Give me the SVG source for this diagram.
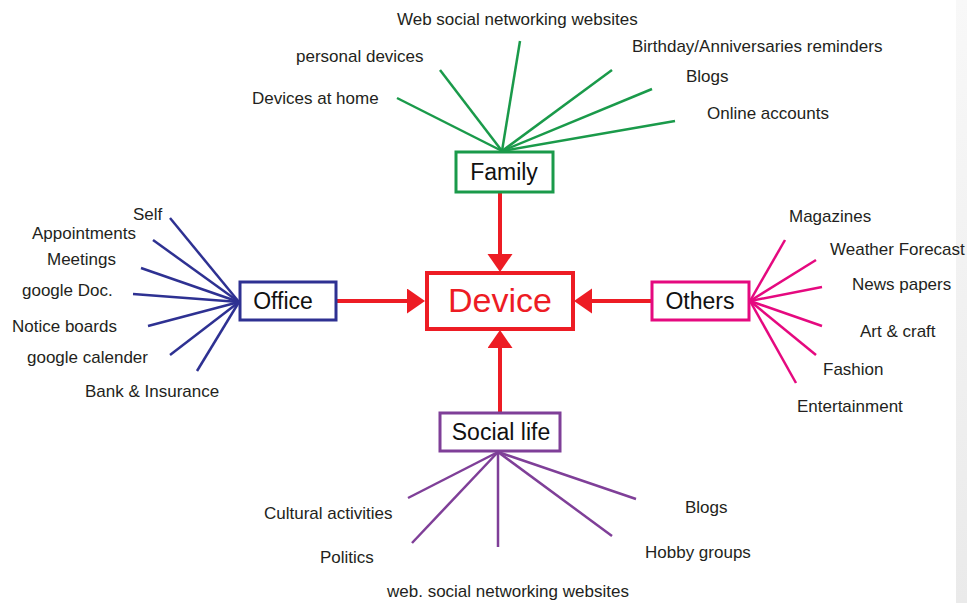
<svg xmlns="http://www.w3.org/2000/svg" width="967" height="603" viewBox="0 0 967 603">
  <defs>
    <linearGradient id="edge" x1="0" y1="0" x2="0" y2="1">
      <stop offset="0" stop-color="#f8f8f8"/>
      <stop offset="1" stop-color="#eaeaea"/>
    </linearGradient>
    <marker id="arrow" markerUnits="userSpaceOnUse" markerWidth="20" markerHeight="26" refX="0" refY="12.5" orient="auto" viewBox="0 0 20 26">
      <path d="M0,0 L18,12.5 L0,25 z" fill="#ed1c24"/>
    </marker>
  </defs>
  <style>
    .lbl { font-family: "Liberation Sans", Arial, sans-serif; font-size: 17px; fill: #231f20; }
    .node { font-family: "Liberation Sans", Arial, sans-serif; font-size: 23px; fill: #111111; text-anchor: middle; }
    .box { fill: #ffffff; stroke-width: 3; }
    .g { stroke: #1a9a4a; stroke-width: 2.5; fill: none; }
    .b { stroke: #2e3192; stroke-width: 2.5; fill: none; }
    .m { stroke: #e5097f; stroke-width: 2.5; fill: none; }
    .p { stroke: #7f3f98; stroke-width: 2.5; fill: none; }
    .arr { stroke: #ed1c24; stroke-width: 4; fill: none; marker-end: url(#arrow); }
  </style>
  <rect x="0" y="0" width="967" height="603" fill="#ffffff"/>
  <rect x="956" y="0" width="11" height="603" fill="url(#edge)"/>

  <g id="connectors">
    <g id="family-branches">
      <line class="g" x1="502" y1="151" x2="397" y2="98"/>
      <line class="g" x1="502" y1="151" x2="440" y2="70"/>
      <line class="g" x1="502" y1="151" x2="520" y2="41"/>
      <line class="g" x1="502" y1="151" x2="612" y2="70"/>
      <line class="g" x1="502" y1="151" x2="652" y2="89"/>
      <line class="g" x1="502" y1="151" x2="675" y2="121"/>
    </g>
    <g id="office-branches">
      <line class="b" x1="239" y1="302" x2="170" y2="218"/>
      <line class="b" x1="239" y1="302" x2="153" y2="240"/>
      <line class="b" x1="239" y1="302" x2="141" y2="268"/>
      <line class="b" x1="239" y1="302" x2="133" y2="294"/>
      <line class="b" x1="239" y1="302" x2="148" y2="326"/>
      <line class="b" x1="239" y1="302" x2="170" y2="355"/>
      <line class="b" x1="239" y1="302" x2="197" y2="371"/>
    </g>
    <g id="others-branches">
      <line class="m" x1="750" y1="301" x2="785" y2="240"/>
      <line class="m" x1="750" y1="301" x2="816" y2="260"/>
      <line class="m" x1="750" y1="301" x2="822" y2="287"/>
      <line class="m" x1="750" y1="301" x2="822" y2="326"/>
      <line class="m" x1="750" y1="301" x2="816" y2="355"/>
      <line class="m" x1="750" y1="301" x2="796" y2="383"/>
    </g>
    <g id="social-branches">
      <line class="p" x1="498" y1="452" x2="408" y2="498"/>
      <line class="p" x1="498" y1="452" x2="412" y2="543"/>
      <line class="p" x1="498" y1="452" x2="498" y2="547"/>
      <line class="p" x1="498" y1="452" x2="612" y2="536"/>
      <line class="p" x1="498" y1="452" x2="636" y2="499"/>
    </g>
    <g id="arrows">
      <line class="arr" x1="500" y1="192" x2="500" y2="254"/>
      <line class="arr" x1="336" y1="301" x2="407" y2="301"/>
      <line class="arr" x1="652" y1="301" x2="592" y2="301"/>
      <line class="arr" x1="500" y1="412" x2="500" y2="348"/>
    </g>
  </g>

  <g id="device">
    <rect x="427" y="273" width="146" height="56" fill="#ffffff" stroke="#ed1c24" stroke-width="4"/>
    <text x="500" y="312" font-family="Liberation Sans, Arial, sans-serif" font-size="34" fill="#ed1c24" text-anchor="middle">Device</text>
  </g>

  <g id="family">
    <rect class="box" x="456" y="152" width="97" height="40" stroke="#1a9a4a"/>
    <text class="node" x="504" y="180">Family</text>
  </g>

  <g id="office">
    <rect class="box" x="240" y="282" width="96" height="38" stroke="#2e3192"/>
    <text class="node" x="283" y="309">Office</text>
  </g>

  <g id="others">
    <rect class="box" x="652" y="282" width="97" height="38" stroke="#e5097f"/>
    <text class="node" x="700" y="309">Others</text>
  </g>

  <g id="social-life">
    <rect class="box" x="440" y="413" width="120" height="38" stroke="#7f3f98"/>
    <text class="node" x="501" y="440">Social life</text>
  </g>

  <g id="family-labels">
    <text class="lbl" x="397" y="25">Web social networking websites</text>
    <text class="lbl" x="296" y="62">personal devices</text>
    <text class="lbl" x="252" y="104">Devices at home</text>
    <text class="lbl" x="632" y="52">Birthday/Anniversaries reminders</text>
    <text class="lbl" x="686" y="82">Blogs</text>
    <text class="lbl" x="707" y="119">Online accounts</text>
  </g>

  <g id="office-labels">
    <text class="lbl" x="133" y="220">Self</text>
    <text class="lbl" x="32" y="239">Appointments</text>
    <text class="lbl" x="47" y="265">Meetings</text>
    <text class="lbl" x="22" y="296">google Doc.</text>
    <text class="lbl" x="12" y="332">Notice boards</text>
    <text class="lbl" x="27" y="363">google calender</text>
    <text class="lbl" x="85" y="397">Bank &amp; Insurance</text>
  </g>

  <g id="others-labels">
    <text class="lbl" x="789" y="222">Magazines</text>
    <text class="lbl" x="830" y="255">Weather Forecast</text>
    <text class="lbl" x="852" y="290">News papers</text>
    <text class="lbl" x="860" y="337">Art &amp; craft</text>
    <text class="lbl" x="823" y="375">Fashion</text>
    <text class="lbl" x="797" y="412">Entertainment</text>
  </g>

  <g id="social-labels">
    <text class="lbl" x="264" y="519">Cultural activities</text>
    <text class="lbl" x="320" y="563">Politics</text>
    <text class="lbl" x="387" y="597">web. social networking websites</text>
    <text class="lbl" x="685" y="513">Blogs</text>
    <text class="lbl" x="645" y="558">Hobby groups</text>
  </g>
</svg>
